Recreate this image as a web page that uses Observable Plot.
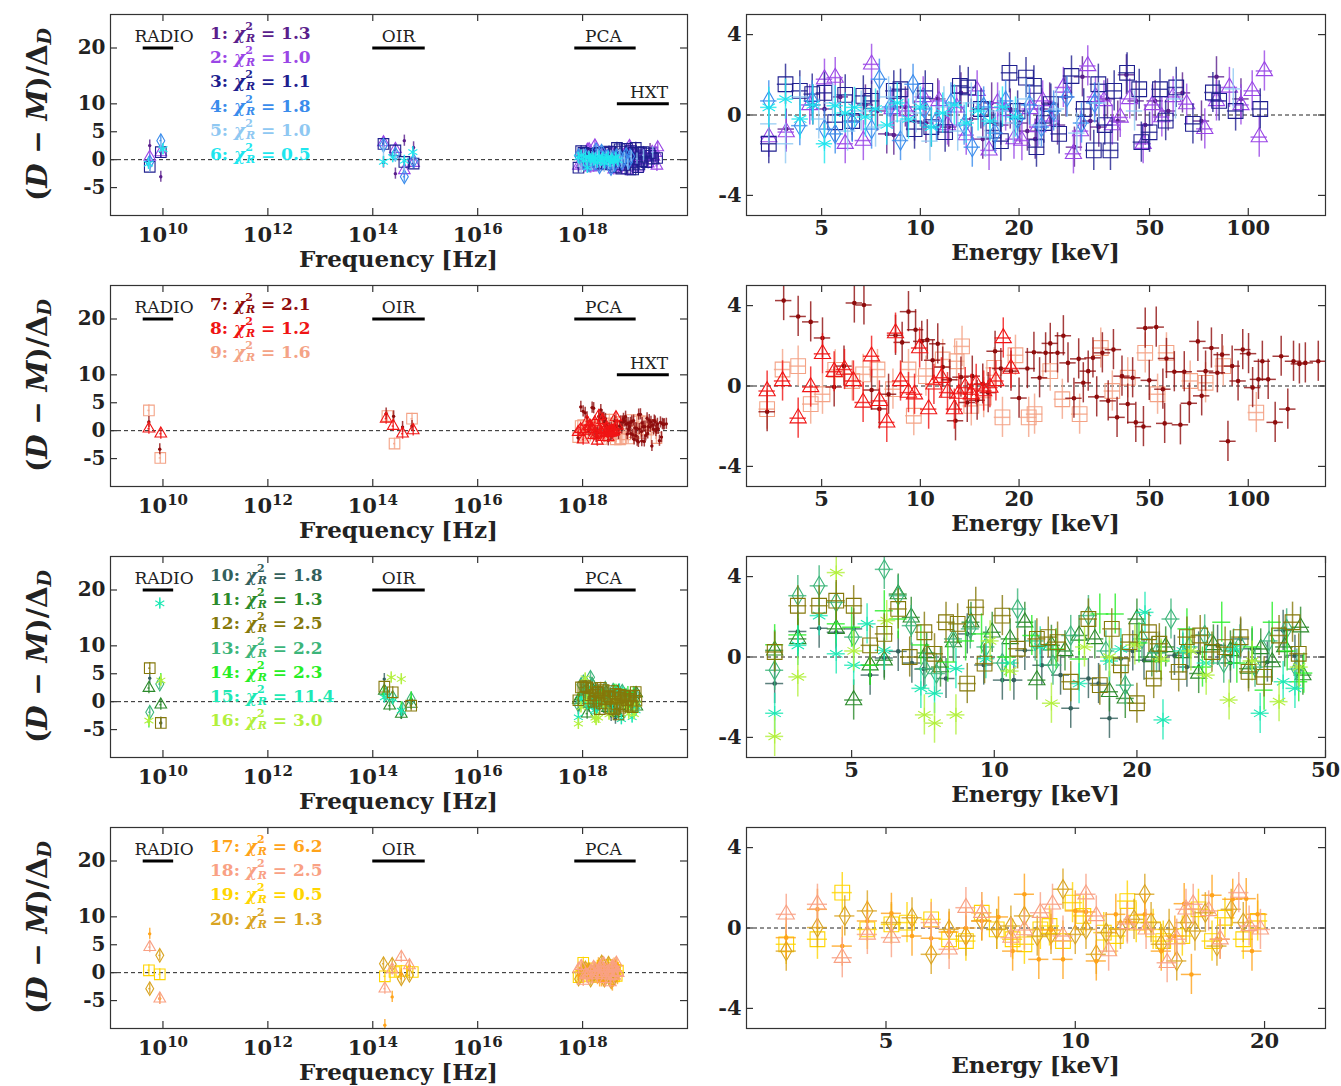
<!DOCTYPE html>
<html><head><meta charset="utf-8">
<script src="https://cdn.jsdelivr.net/npm/d3@7"></script>
<script src="https://cdn.jsdelivr.net/npm/@observablehq/plot@0.6"></script>
<style>
body{margin:0;background:#fff}
#fig{position:relative;width:1341px;height:1086px;overflow:hidden;background:#fff}
#fig > svg{position:absolute}
</style></head>
<body><div id="fig"></div>
<script>
// ---------------- series meta ----------------
const seriesIds = [1,2,3,4,5,6,7,8,9,10,11,12,13,14,15,16,17,18,19,20];
const chi2Values = [1.3,1.0,1.1,1.8,1.0,0.5,2.1,1.2,1.6,1.8,1.3,2.5,2.2,2.3,11.4,3.0,6.2,2.5,0.5,1.3];
const seriesColors = ["#5a1e8c","#9a46e6","#1f1f8f","#3a8cec","#8fc8f2","#1ee6ee",
  "#8e0c0c","#f01414","#f4a386",
  "#33605c","#2b8a2b","#85780a","#3cb57a","#26ee26","#1de8b4","#b2f03c",
  "#ffa31a","#f9a184","#ffd500","#d9a422"];
const seriesSymbols = ["dot","triangle","square","diamond","plus","asterisk",
  "dot","triangle","square",
  "dot","triangle","square","diamond","plus","asterisk","asterisk",
  "dot","triangle","square","diamond"];
const rowSeries = [[1,2,3,4,5,6],[7,8,9],[10,11,12,13,14,15,16],[17,18,19,20]];
const rowDrawOrder = [[1,2,3,4,5,6],[9,7,8],[10,11,13,14,15,16,12],[19,20,17,18]];

// ---------------- axes ----------------
const freqDomain = [1e9, 1e20];
const freqTicks = [1e10,1e12,1e14,1e16,1e18];
const residDomainLeft = [-10, 26];
const residTicksLeft = [-5,0,5,10,20];
const residDomainRight = [-5, 5];
const residTicksRight = [-4,0,4];
const energyDomains = [[2.95,172],[2.95,172],[3,50],[3,25]];
const energyTicks = [[5,10,20,50,100],[5,10,20,50,100],[5,10,20,50],[5,10,20]];
const energyBinHalfLog = [0.025, 0.025, 0.019, 0.016];

// ---------------- instrument bands ----------------
const bandNames = ["RADIO","OIR","PCA","HXT"];
const bandLo = [4.2e9, 1.0e14, 7.1e17, 4.6e18];
const bandHi = [1.6e10, 1.0e15, 1.05e19, 4.5e19];
const bandLabelAt = [1.05e10, 3.1e14, 2.5e18, 1.85e19];
const bandLevel = [20, 20, 20, 10];
const rowHasHXT = [true, true, false, false];

const KEV_TO_HZ = 2.418e17;

// ---------------- X-ray residuals [keV, (D-M)/dD] ----------------
const xray1 = [[3.9,-0.7],[4.7,0.5],[5.1,0.3],[5.7,0.9],[6.2,0.0],[6.8,0.5],[7.4,0.2],[7.9,-0.94],[8.3,-1.0],[9.0,0.4],[9.6,-0.3],[10.4,-0.4],[11.3,0.8],[12.2,-0.6],[13.3,1.1],[14.3,-0.2],[15.5,-1.2],[16.5,0.6],[17.6,-0.5],[18.8,0.3],[20.1,-0.4],[21.2,-0.8],[22.4,-1.2],[23.5,0.3],[24.8,0.6],[26.2,-0.5],[27.8,0.9],[29.5,-1.6],[31.2,1.9],[33.0,-0.3],[35.0,-0.6],[37.2,0.8],[40.0,-0.3],[42.5,2.0],[45.5,0.7],[48.5,-0.5],[52,0.7],[57,0.2],[63,1.1],[72,-0.3],[80,1.9],[95,0.8]];
const xray2 = [[3.45,-1.1],[3.9,-0.85],[4.6,0.5],[5.1,1.78],[5.5,1.86],[5.9,-1.43],[6.7,-1.27],[7.1,2.52],[8.2,0.3],[9.1,0.2],[10.2,0.9],[11.4,0.7],[12.1,-0.5],[12.9,0.38],[13.8,-1.0],[14.9,1.2],[16.2,-1.76],[17.2,0.6],[18.2,0.2],[19.3,-1.2],[20.4,-1.27],[21.6,0.3],[22.8,-0.6],[23.6,0.7],[25.2,-0.3],[27.3,1.37],[29.3,-1.93],[30.8,-0.8],[32.4,2.44],[34.2,0.9],[36.3,0.7],[38.5,-0.5],[40.7,-0.12],[43.5,0.8],[47.8,-1.43],[51,0.5],[54.5,-0.1],[59,0.9],[64.9,0.54],[73.7,-0.69],[80,0.7],[87.6,1.37],[95,0.5],[102.8,1.2],[108,-1.1],[112,2.19]];
const xray3 = [[3.45,-1.43],[3.88,1.53],[4.29,1.2],[4.68,1.04],[5.1,1.1],[5.5,-0.36],[5.9,1.0],[6.2,-0.3],[6.7,0.95],[7.1,0.7],[8.3,1.2],[8.7,1.28],[9.6,-0.7],[10.35,1.2],[10.8,-0.6],[11.9,-0.85],[13.2,1.45],[14.0,1.37],[15.3,0.3],[16.7,-0.77],[17.6,-1.3],[18.7,2.1],[19.8,0.2],[21.0,1.86],[22.2,1.45],[22.6,-1.6],[23.8,-0.4],[25.0,0.54],[26.5,-0.94],[28.9,1.94],[31.5,0.3],[33.8,-1.76],[34.9,1.53],[36.5,-0.5],[38.0,-1.76],[39.0,1.2],[42.7,2.1],[46.5,1.28],[47.2,-1.35],[50,-0.86],[53.8,1.28],[56,-0.28],[60.3,1.37],[67.8,-0.44],[78,1.12],[81.5,0.7],[91.5,0.2],[108.8,0.3]];
const xray4 = [[3.45,0.7],[4.29,-0.53],[4.68,0.7],[5.1,-0.7],[5.5,-0.94],[6.2,-0.36],[7.1,-0.7],[7.5,1.78],[8.1,0.4],[8.7,-1.27],[9.5,1.53],[10.3,0.3],[11.2,-0.3],[12.4,0.6],[13.6,-0.5],[14.4,-1.6],[15.6,0.4],[16.9,-0.9],[18.2,0.7],[19.8,-0.2],[21.5,0.5],[23.4,-0.6],[25.5,0.2],[28,0.9],[31,-0.4],[34,0.6]];
const xray5 = [[3.45,-0.44],[3.88,-1.43],[4.3,0.9],[4.9,-0.2],[5.4,0.6],[6.0,-0.8],[6.6,0.2],[7.3,-0.6],[8.0,0.9],[8.8,-0.3],[9.7,0.1],[10.7,-1.3],[11.8,0.4],[13.0,-0.8],[14.3,0.6],[15.8,-1.1],[17.4,0.2],[19.2,-0.4],[21,0.8],[23,-0.5],[26,0.3],[30,-0.9],[35,0.6],[45,0.2],[60,0.8],[90,1.3]];
const xray6 = [[3.45,0.38],[3.88,0.79],[4.3,-0.2],[4.7,0.5],[5.1,-1.43],[5.5,0.46],[5.9,0.1],[6.3,0.38],[6.8,-0.1],[7.3,0.3],[7.9,-0.5],[8.5,0.6],[9.2,-0.2],[10,0.4],[10.8,-0.6],[11.7,0.1],[12.7,0.5],[13.8,-0.4],[15,0.2],[16.3,-0.3],[17.8,0.4],[19.5,-0.1]];
const xray7 = [[3.41,-1.28],[3.83,4.25],[4.24,3.46],[4.63,3.19],[5.03,2.39],[5.46,-0.05],[5.85,0.99],[6.29,4.13],[6.73,4.03],[7.1,-0.2],[7.5,-1.14],[8.0,-0.41],[8.4,2.52],[8.8,2.17],[9.2,3.7],[9.67,2.8],[10.1,2.22],[10.5,2.3],[10.9,1.28],[11.3,2.1],[11.7,0.94],[12.3,0.31],[12.8,-1.73],[13.3,0.44],[13.9,-0.82],[14.4,0.49],[14.9,-0.71],[15.5,0.1],[16.1,-0.33],[16.9,1.73],[17.6,0.87],[18.9,0.74],[20.0,-0.6],[21.2,0.87],[22.2,1.68],[23.1,0.41],[24.1,1.65],[24.9,2.12],[26.2,1.65],[27.3,2.5],[28.2,1.15],[29.4,-0.61],[30.4,1.35],[31.4,0.16],[32.5,0.74],[33.6,1.4],[34.5,-0.54],[35.9,1.65],[37.4,-0.74],[38.8,1.81],[39.8,-1.56],[41.2,0.49],[42.9,-0.9],[44.4,0.41],[45.4,-1.81],[47.9,-2.02],[48.5,2.88],[49.9,0.28],[52.4,2.93],[54.9,-0.16],[55.6,-1.86],[56.3,1.37],[59.5,0.71],[62.1,-1.93],[63.8,0.71],[66.1,-0.86],[70.2,2.22],[72.1,-0.49],[74.1,0.74],[77.2,1.89],[80.5,0.66],[83.2,1.56],[86.7,-2.75],[89.3,0.99],[93.1,0.25],[96.2,1.81],[100.2,1.61],[103.1,-0.08],[107.4,0.33],[110.4,1.23],[115.0,0.33],[120.8,-1.81],[126,1.48],[132,-1.15],[137.4,1.23],[143.2,1.1],[149.3,1.15],[163.5,1.23]];
const xray8 = [[3.41,-0.25],[3.80,0.25],[4.24,-1.6],[4.63,-0.05],[5.03,1.6],[5.46,0.71],[5.87,0.82],[6.25,0.25],[6.69,-0.82],[7.1,1.48],[7.5,-0.74],[7.9,-1.81],[8.4,2.63],[8.7,0.25],[9.2,-0.33],[9.6,-0.41],[9.95,1.89],[10.6,-1.15],[11.0,0.08],[11.6,0.41],[12.1,-0.33],[12.7,-1.15],[13.1,-0.38],[13.7,-0.08],[14.3,-0.41],[14.8,0.08],[15.6,-0.25],[16.3,-0.08],[17.0,0.25],[17.9,2.39],[18.9,0.87]];
const xray9 = [[3.41,-1.15],[3.80,0.82],[4.24,0.99],[4.63,-0.9],[5.03,-0.41],[5.5,0.8],[6.2,0.25],[6.69,0.58],[7.4,0.82],[8.25,-0.16],[9.2,0.82],[9.55,-1.48],[10.4,0.49],[11.7,1.32],[12.9,1.23],[13.4,1.97],[14.3,-0.99],[15.6,-0.58],[16.8,0.9],[17.8,-1.56],[19.5,1.53],[21.4,-1.56],[22.3,-1.4],[24.9,0.74],[27.1,-0.66],[30.6,-1.4],[35.5,1.89],[38.5,-0.25],[42.9,0.41],[48.5,1.65],[52.9,-0.41],[56.3,1.65],[66.5,0.25],[74.1,0.16],[83.9,0.99],[105.8,-1.32]];
const xray10 = [[3.44,-1.32],[3.85,1.27],[4.27,1.43],[4.64,1.23],[5.05,1.4],[5.47,-0.9],[5.86,-0.05],[6.27,0.28],[6.7,-0.3],[7.1,-0.6],[7.91,-1.07],[8.77,1.15],[9.5,-0.4],[10.4,-1.15],[11.0,-1.15],[11.6,0.33],[12.6,-0.41],[13.8,-0.9],[14.5,-2.55],[15.8,-1.07],[16.6,-1.32],[17.5,-3.05],[18.5,-0.08],[19.6,0.3],[20.7,-0.16],[22.3,0.25],[24.0,0.08],[25.5,-0.5],[27.0,0.25],[29.6,0.58],[31.5,-0.3],[33.1,0.9],[35.0,0.41],[37.7,-0.25],[40.7,1.32],[43.1,0.08]];
const xray11 = [[3.44,0.33],[3.85,0.9],[4.64,1.4],[5.05,-2.14],[5.47,-0.41],[5.86,-0.16],[6.27,3.13],[6.68,1.97],[7.2,0.2],[7.7,-0.5],[8.2,0.74],[8.93,1.73],[9.9,1.23],[10.8,0.9],[11.6,1.73],[12.3,-1.15],[13.2,0.58],[14.1,0.3],[15.1,1.07],[16.3,0.9],[17.5,-1.73],[18.9,-2.06],[20.0,1.89],[21.5,0.0],[23.0,0.5],[25.0,0.2],[27.0,-0.82],[29.0,0.6],[31.5,0.3],[34.4,-0.58],[36.5,0.4],[38.6,-0.25],[41,0.5],[44.3,1.48],[44.8,-0.9]];
const xray12 = [[3.44,0.25],[3.85,2.55],[4.27,2.55],[4.64,2.8],[5.05,2.55],[5.47,0.58],[5.86,1.15],[6.27,2.39],[6.63,0.0],[7.12,1.23],[7.48,0.16],[7.91,1.73],[8.37,1.65],[8.77,-1.32],[9.14,2.47],[9.54,-0.33],[10.4,2.06],[11.2,0.41],[12.3,0.9],[13.0,0.99],[13.6,0.74],[14.5,-1.23],[15.8,1.89],[16.7,-1.4],[17.7,1.4],[18.5,-0.41],[19.3,0.74],[20.0,-2.3],[21.2,1.23],[21.7,-1.07],[22.3,0.66],[24.5,-0.74],[25.5,0.99],[27.2,1.07],[28.8,0.25],[30.7,0.49],[33.1,0.99],[34.4,-0.74],[37.1,-0.99],[39.9,1.07],[42.6,1.73],[43.9,0.16]];
const xray13 = [[3.44,-0.66],[3.85,3.05],[4.27,3.54],[4.64,2.72],[5.05,0.99],[5.86,4.36],[6.27,3.05],[6.68,1.56],[7.14,-0.58],[7.55,-0.82],[8.2,0.9],[8.9,1.4],[9.6,0.5],[10.4,-0.3],[11.2,2.39],[12.2,0.8],[13.3,-0.4],[14.5,1.07],[15.8,2.06],[17.2,0.3],[18.9,-1.4],[20.5,0.9],[22.0,0.2],[23.6,1.89],[25.8,0.5],[27.8,1.1],[30.5,-0.3],[33.0,0.6],[35.5,-0.5],[38.0,0.8],[41.4,1.4],[43.5,-0.6]];
const xray14 = [[3.44,0.61],[3.85,1.1],[4.64,1.65],[5.0,1.48],[5.47,-0.4],[5.86,2.3],[6.27,1.89],[7.0,0.6],[7.98,-0.25],[8.7,0.8],[9.4,1.15],[10.6,0.0],[12.0,1.07],[13.5,0.4],[15.1,-0.1],[16.7,2.14],[18.0,2.14],[20.2,0.7],[22.5,-0.2],[25.5,1.4],[27.5,-0.5],[30.2,1.73],[32.5,-0.3],[35.0,0.5],[37.1,-1.65],[38.6,1.73],[41.5,0.3],[43.9,-1.23],[45.0,-0.8]];
const xray15 = [[3.44,-2.8],[3.85,0.58],[4.27,2.06],[4.64,0.16],[5.05,-0.41],[5.39,1.65],[5.86,0.33],[7.0,-1.56],[7.48,-1.81],[8.3,-0.58],[9.6,-0.08],[10.8,-0.3],[12.5,0.5],[15.1,-1.32],[17.5,-0.2],[18.5,0.4],[20.8,2.22],[22.7,-3.13],[25.0,0.3],[28.0,-0.3],[32.0,0.4],[36.4,-2.8],[40.7,-1.23],[43.1,-1.56]];
const xray16 = [[3.44,-3.95],[3.85,-0.99],[4.64,4.2],[5.05,0.3],[5.93,1.81],[7.12,-2.88],[7.48,-3.29],[8.3,-2.88],[9.8,0.8],[10.8,-0.7],[13.2,-2.3],[15.5,0.5],[17.5,0.0],[19.8,0.6],[22.5,-0.1],[26.0,0.3],[28.0,-0.9],[31.3,-2.14],[35.0,-0.2],[39.9,-2.22],[44.0,-0.5]];
const xray17 = [[3.47,-0.48],[3.89,0.93],[4.26,-0.9],[4.67,0.35],[5.1,0.73],[5.5,-0.4],[5.9,-0.51],[6.3,-0.2],[6.7,0.0],[7.1,0.35],[7.55,0.55],[7.95,-1.15],[8.3,1.68],[8.75,-1.56],[9.15,-0.1],[9.56,-1.56],[10.0,0.85],[10.4,0.8],[10.8,-1.64],[11.6,0.68],[12.1,0.3],[12.9,0.68],[13.7,-1.15],[14.4,-0.4],[14.9,1.21],[15.3,-2.31],[16.5,1.63],[17.0,-0.56],[17.8,1.43],[18.7,1.46],[19.1,-1.15],[19.5,0.68]];
const xray18 = [[3.47,0.68],[3.89,1.18],[4.26,-1.48],[4.67,-0.32],[5.1,-0.48],[5.9,0.27],[6.3,-1.06],[6.7,1.01],[7.1,0.76],[7.9,-0.48],[8.3,-0.1],[8.8,0.76],[9.2,1.18],[9.56,-0.4],[10.4,1.68],[10.8,0.6],[11.3,-1.15],[12.1,0.2],[12.96,-0.07],[14.0,-1.73],[14.5,-0.56],[15.0,0.93],[15.4,1.18],[16.3,0.85],[17.0,-0.56],[18.2,1.76],[18.9,0.1],[19.7,-0.07]];
const xray19 = [[3.47,-0.81],[3.89,-0.56],[4.26,1.76],[4.67,-0.07],[5.1,0.18],[5.4,0.27],[5.9,0.43],[6.3,-0.56],[6.7,-0.65],[7.1,0.76],[7.5,-0.07],[7.95,-0.56],[8.3,-0.81],[8.8,-0.07],[9.1,0.1],[9.56,-0.65],[9.9,1.26],[10.3,0.6],[11.1,-0.23],[11.6,-0.4],[12.1,1.34],[12.5,0.27],[13.3,-0.07],[13.8,-0.65],[14.8,-0.4],[15.7,0.93],[16.5,-0.65],[17.3,0.51],[18.5,-0.56],[19.5,0.35]];
const xray20 = [[3.47,-1.15],[3.89,0.02],[4.3,0.6],[4.67,0.85],[5.1,0.27],[5.5,0.51],[5.9,-1.31],[6.3,-0.07],[6.7,-0.4],[7.1,0.35],[7.5,-0.07],[7.9,0.1],[8.3,0.6],[8.7,-0.4],[9.15,-0.32],[9.56,1.93],[10.0,-0.32],[10.4,-0.07],[10.8,-1.31],[11.2,-0.23],[11.8,-0.07],[12.4,0.43],[12.9,1.68],[13.2,0.27],[13.7,-0.81],[14.1,-0.07],[14.5,-1.64],[15.0,0.27],[15.5,-0.15],[16.1,0.76],[16.8,-0.9],[17.7,0.93],[18.5,0.27]];

// ---------------- radio / OIR residuals [Hz, (D-M)/dD] ----------------
const sed1 = [[5.6e9,2.53],[9.1e9,-3.06],[1.6e14,-0.5],[2.7e14,-2.5],[4.0e14,3.4],[6.0e14,2.2]];
const sed2 = [[5.6e9,0.5],[9.1e9,1.3],[1.6e14,3.1],[2.7e14,1.9],[4.0e14,-1.9],[6.0e14,-0.6]];
const sed3 = [[5.6e9,-1.29],[9.1e9,1.35],[1.6e14,2.82],[2.7e14,1.65],[4.0e14,-0.4],[6.0e14,-0.7]];
const sed4 = [[5.6e9,-0.4],[9.1e9,3.4],[1.6e14,2.6],[2.7e14,1.0],[4.0e14,-3.06],[6.0e14,-0.2]];
const sed5 = [[5.6e9,-1.3],[9.1e9,2.2],[1.6e14,1.5],[2.7e14,0.5],[4.0e14,-1.5],[6.0e14,0.2]];
const sed6 = [[5.3e9,-0.7],[1.0e10,1.9],[1.6e14,-0.4],[2.4e14,0.47],[4.0e14,-0.2],[5.8e14,1.35]];
const sed7 = [[5.4e9,1.55],[8.7e9,-3.33],[1.8e14,3.04],[2.5e14,2.56],[3.7e14,0.65],[5.6e14,0.83]];
const sed8 = [[5.4e9,0.36],[9.1e9,-0.54],[1.8e14,2.14],[2.45e14,0.83],[3.7e14,-0.54],[5.9e14,0.06]];
const sed9 = [[5.4e9,3.63],[8.9e9,-4.88],[1.9e14,2.62],[2.6e14,-2.32],[5.6e14,2.14]];
const sed10 = [[5.6e9,4.2],[9.1e9,-3.8],[1.66e14,4.05],[3.5e14,-2.2]];
const sed11 = [[5.4e9,2.44],[9.1e9,-0.54],[1.66e14,1.96],[2.1e14,-0.71],[3.5e14,-2.2],[5.4e14,-0.4]];
const sed12 = [[5.6e9,6.0],[9.1e9,-3.8],[1.66e14,2.68],[2.4e14,1.67],[5.4e14,-0.71]];
const sed13 = [[5.6e9,-1.9],[8.7e9,3.15],[1.8e14,1.37],[2.4e14,0.77],[3.7e14,-1.3],[5.4e14,0.48]];
const sed14 = [[5.4e9,-3.7],[9.1e9,4.05],[1.6e14,1.4],[3.5e14,-1.0],[5.4e14,0.77]];
const sed15 = [[8.7e9,17.6],[1.66e14,0.77],[2.4e14,0.48],[3.5e14,-1.6]];
const sed16 = [[5.4e9,-3.4],[9.1e9,3.8],[2.25e14,4.35],[3.5e14,4.05]];
const sed17 = [[5.6e9,6.96],[8.7e9,-4.64],[1.7e14,-9.4],[2.35e14,-4.35],[3.5e14,-0.3],[5.0e14,1.19]];
const sed18 = [[5.6e9,4.58],[8.7e9,-4.64],[1.7e14,-2.86],[2.35e14,0.6],[3.5e14,2.8],[5.0e14,1.31]];
const sed19 = [[5.4e9,0.42],[8.7e9,-0.3],[1.7e14,-0.65],[2.6e14,0.12],[3.5e14,0.3],[5.8e14,0.12]];
const sed20 = [[5.6e9,-2.86],[8.7e9,3.1],[1.6e14,1.6],[2.35e14,1.49],[3.5e14,-1.07],[5.0e14,-0.48]];

const xrayBySeries = [xray1,xray2,xray3,xray4,xray5,xray6,xray7,xray8,xray9,xray10,xray11,xray12,xray13,xray14,xray15,xray16,xray17,xray18,xray19,xray20];
const sedBySeries = [sed1,sed2,sed3,sed4,sed5,sed6,sed7,sed8,sed9,sed10,sed11,sed12,sed13,sed14,sed15,sed16,sed17,sed18,sed19,sed20];

// ---------------- layout ----------------
const rowTops = [14, 285, 556, 827];
const FRAME_H = 201;
const MT = 10, MB = 58;
const LEFT = {left: 0, width: 700, ml: 110, mr: 13};
const RIGHT = {left: 690, width: 651, ml: 56, mr: 16};
const TICK = 7;
const FONT = "DejaVu Serif";
const INK = "#222";
const symbolR = {square: 8.3, triangle: 6, diamond: 5.8, asterisk: 6.8};
const fig = document.getElementById("fig");

function seriesMarks(s, pts, binHalfLog, scale) {
  const c = seriesColors[s-1], sym = seriesSymbols[s-1];
  const f = Math.pow(10, binHalfLog);
  const out = [
    Plot.ruleX(pts, {x: "x", y1: d => d.r - 1, y2: d => d.r + 1, stroke: c, strokeWidth: 1.5, strokeOpacity: 0.8, clip: true}),
    Plot.ruleY(pts, {y: "r", x1: d => d.x / f, x2: d => d.x * f, stroke: c, strokeWidth: 1.5, strokeOpacity: 0.8, clip: true})
  ];
  if (sym === "dot") out.push(Plot.dot(pts, {x: "x", y: "r", r: 2.3*scale, fill: c, stroke: "none", clip: true}));
  else if (sym !== "plus") out.push(Plot.dot(pts, {x: "x", y: "r", r: symbolR[sym]*scale, symbol: sym, fill: "none", stroke: c, strokeWidth: 1.1, clip: true}));
  return out;
}

function frameTicks(xt, yt, innerW) {
  return [
    Plot.frame({stroke: "#333", strokeWidth: 1.2}),
    Plot.tickX(xt, {x: d => d, insetTop: FRAME_H - TICK, stroke: "#333", strokeWidth: 1.2}),
    Plot.tickX(xt, {x: d => d, insetBottom: FRAME_H - TICK, stroke: "#333", strokeWidth: 1.2}),
    Plot.tickY(yt, {y: d => d, insetRight: innerW - TICK, stroke: "#333", strokeWidth: 1.2}),
    Plot.tickY(yt, {y: d => d, insetLeft: innerW - TICK, stroke: "#333", strokeWidth: 1.2})
  ];
}

function place(svg, left, top) {
  svg.style.left = left + "px";
  svg.style.top = top + "px";
  fig.appendChild(svg);
  return d3.select(svg);
}

function leftPanel(row) {
  const ids = rowSeries[row];
  const innerW = LEFT.width - LEFT.ml - LEFT.mr;
  const marks = [Plot.ruleY([0], {stroke: INK, strokeWidth: 1, strokeDasharray: "4,3"})];
  const bands = bandNames.map((name, i) => ({name, lo: bandLo[i], hi: bandHi[i], at: bandLabelAt[i], level: bandLevel[i]}))
    .filter(b => b.name !== "HXT" || rowHasHXT[row]);
  marks.push(Plot.ruleY(bands, {y: "level", x1: "lo", x2: "hi", stroke: "#000", strokeWidth: 3}));
  marks.push(Plot.text(bands, {x: "at", y: "level", text: "name", dy: -11, fontSize: 17, fontWeight: "normal", fill: INK}));
  for (const s of rowDrawOrder[row]) {
    const pts = sedBySeries[s-1].map(([nu, r]) => ({x: nu, r}))
      .concat(xrayBySeries[s-1].map(([e, r]) => ({x: e * KEV_TO_HZ, r})));
    marks.push(...seriesMarks(s, pts, 0.02, 0.72));
  }
  marks.push(...frameTicks(freqTicks, residTicksLeft, innerW));
  marks.push(Plot.text(freqTicks, {x: d => d, text: d => "10^" + Math.round(Math.log10(d)), frameAnchor: "bottom", lineAnchor: "top", dy: 12, fontSize: 21, fill: INK}));
  marks.push(Plot.axisY(residTicksLeft, {tickSize: 0, tickPadding: 5, label: null, tickFormat: d => String(d), fontSize: 20, fill: INK}));
  const svg = Plot.plot({
    width: LEFT.width, height: MT + FRAME_H + MB,
    marginLeft: LEFT.ml, marginRight: LEFT.mr, marginTop: MT, marginBottom: MB,
    x: {type: "log", domain: freqDomain, axis: null},
    y: {domain: residDomainLeft},
    style: {fontFamily: FONT, fontWeight: "bold", fontSize: "20px", background: "transparent", overflow: "visible"},
    marks
  });
  const g = place(svg, LEFT.left, rowTops[row] - MT);
  g.selectAll("text").each(function() {
    const t = this.textContent;
    if (/^10\^\d+$/.test(t)) {
      const e = t.slice(3);
      const sel = d3.select(this);
      sel.text("");
      sel.append("tspan").text("10");
      sel.append("tspan").attr("dy", "-0.55em").attr("font-size", "15").text(e);
    }
  });
  g.append("text").attr("x", LEFT.ml + innerW/2).attr("y", MT + FRAME_H + 52)
    .attr("text-anchor", "middle").attr("font-family", FONT).attr("font-weight", "bold")
    .attr("font-size", 23).attr("fill", INK).text("Frequency [Hz]");
  const cy = MT + FRAME_H/2, cx = 37;
  const yl = g.append("text").attr("transform", `translate(${cx},${cy}) rotate(-90)`)
    .attr("text-anchor", "middle").attr("dominant-baseline", "central")
    .attr("font-family", FONT).attr("font-weight", "bold").attr("font-size", 28).attr("fill", INK);
  yl.append("tspan").text("(");
  yl.append("tspan").attr("font-style", "italic").text("D");
  yl.append("tspan").text(" \u2212 ");
  yl.append("tspan").attr("font-style", "italic").text("M");
  yl.append("tspan").text(")/\u0394");
  yl.append("tspan").attr("font-style", "italic").attr("font-size", 19).attr("dy", 7).text("D");
  ids.forEach((s, i) => {
    const c = seriesColors[s-1];
    const t = g.append("text").attr("x", 210).attr("y", MT + 19 + i*24.2)
      .attr("text-anchor", "start")
      .attr("dominant-baseline", "central").attr("font-family", FONT).attr("font-weight", "bold")
      .attr("font-size", 17).attr("fill", c);
    t.append("tspan").text(s + ": ");
    t.append("tspan").attr("font-style", "italic").text("\u03C7");
    t.append("tspan").attr("font-size", 11).attr("dy", -7).text("2");
    t.append("tspan").attr("font-size", 11).attr("font-style", "italic").attr("dx", -7).attr("dy", 12).text("R");
    t.append("tspan").attr("dy", -5).text(" = " + chi2Values[s-1].toFixed(1));
  });
}

function rightPanel(row) {
  const innerW = RIGHT.width - RIGHT.ml - RIGHT.mr;
  const marks = [Plot.ruleY([0], {stroke: INK, strokeWidth: 1, strokeDasharray: "4,3"})];
  for (const s of rowDrawOrder[row]) {
    const pts = xrayBySeries[s-1].map(([e, r]) => ({x: e, r}));
    marks.push(...seriesMarks(s, pts, energyBinHalfLog[row], 1));
  }
  marks.push(...frameTicks(energyTicks[row], residTicksRight, innerW));
  marks.push(Plot.text(energyTicks[row], {x: d => d, text: d => String(d), frameAnchor: "bottom", lineAnchor: "top", dy: 5, fontSize: 21, fill: INK}));
  marks.push(Plot.axisY(residTicksRight, {tickSize: 0, tickPadding: 5, label: null, tickFormat: d => String(d), fontSize: 21, fill: INK}));
  const svg = Plot.plot({
    width: RIGHT.width, height: MT + FRAME_H + MB,
    marginLeft: RIGHT.ml, marginRight: RIGHT.mr, marginTop: MT, marginBottom: MB,
    x: {type: "log", domain: energyDomains[row], axis: null},
    y: {domain: residDomainRight},
    style: {fontFamily: FONT, fontWeight: "bold", fontSize: "20px", background: "transparent", overflow: "visible"},
    marks
  });
  const g = place(svg, RIGHT.left, rowTops[row] - MT);
  g.append("text").attr("x", RIGHT.ml + innerW/2).attr("y", MT + FRAME_H + 45)
    .attr("text-anchor", "middle").attr("font-family", FONT).attr("font-weight", "bold")
    .attr("font-size", 23).attr("fill", INK).text("Energy [keV]");
}

for (let row = 0; row < 4; row++) { leftPanel(row); rightPanel(row); }
</script>
</body></html>
